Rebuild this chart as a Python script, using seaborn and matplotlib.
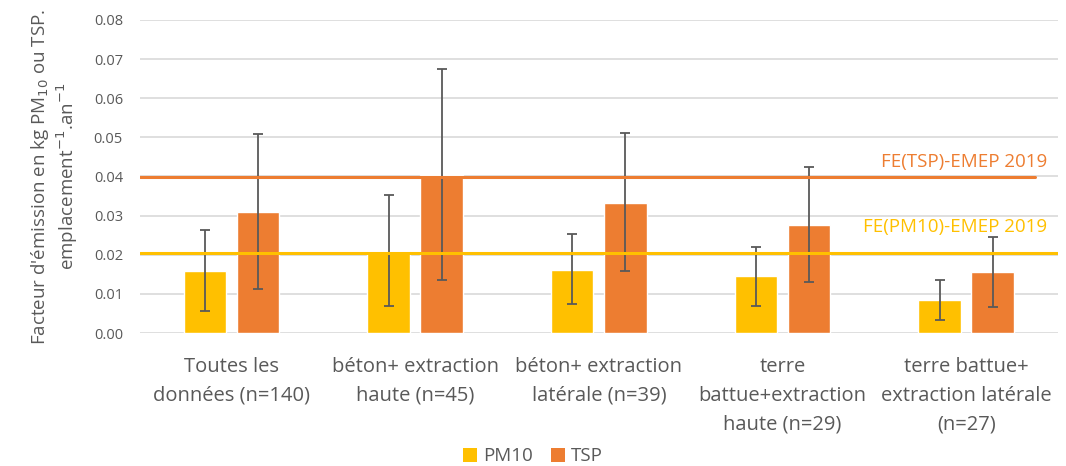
import matplotlib
matplotlib.use("Agg")
import matplotlib.pyplot as plt
import seaborn as sns
import pandas as pd
import numpy as np
from matplotlib.patches import Patch

categories = [
    "Toutes les\ndonnées (n=140)",
    "béton+ extraction\nhaute (n=45)",
    "béton+ extraction\nlatérale (n=39)",
    "terre\nbattue+extraction\nhaute (n=29)",
    "terre battue+\nextraction latérale\n(n=27)",
]
series = ["PM10", "TSP"]
pm10 = [0.0159, 0.0210, 0.0162, 0.0146, 0.0084]
tsp = [0.0310, 0.0404, 0.0333, 0.0277, 0.0156]
pm10_err_low = [0.0056, 0.0069, 0.0074, 0.0070, 0.0033]
pm10_err_high = [0.0263, 0.0353, 0.0253, 0.0221, 0.0136]
tsp_err_low = [0.0112, 0.0135, 0.0158, 0.0131, 0.0067]
tsp_err_high = [0.0509, 0.0675, 0.0510, 0.0425, 0.0245]
ref_pm10 = 0.0204
ref_tsp = 0.0399
ref_labels = ["FE(PM10)-EMEP 2019", "FE(TSP)-EMEP 2019"]
yticks = [0.00, 0.01, 0.02, 0.03, 0.04, 0.05, 0.06, 0.07, 0.08]

colors = {"PM10": "#FFC000", "TSP": "#ED7D31"}
grey = "#595959"
font = "Open Sans"

sns.set_theme(style="white")
plt.rcParams["font.family"] = [font, "DejaVu Sans"]

df = pd.DataFrame({
    "cat": categories * 2,
    "serie": ["PM10"] * 5 + ["TSP"] * 5,
    "val": pm10 + tsp,
})

fig = plt.figure(figsize=(10.66, 4.66), dpi=100)
ax = fig.add_axes([0.131, 0.2854, 0.8615, 0.6717])

sns.barplot(data=df, x="cat", y="val", hue="serie", order=categories,
            hue_order=series, palette=colors, width=0.58, gap=0.2,
            errorbar=None, ax=ax, legend=False, zorder=2, saturation=1)

containers = ax.containers
for cont, vals, lo, hi in [(containers[0], pm10, pm10_err_low, pm10_err_high),
                           (containers[1], tsp, tsp_err_low, tsp_err_high)]:
    xs = [p.get_x() + p.get_width() / 2 for p in cont.patches]
    v = np.array(vals)
    yerr = [v - np.array(lo), np.array(hi) - v]
    ax.errorbar(xs, v, yerr=yerr, fmt="none", ecolor=grey, elinewidth=1.3,
                capsize=3.5, capthick=1.3, zorder=3)

ax.axhline(ref_tsp, xmin=0, xmax=0.975, color=colors["TSP"], lw=2.2, zorder=4)
ax.axhline(ref_pm10, xmin=0, xmax=1.0, color=colors["PM10"], lw=2.2, zorder=4)
ax.text(0.988, 0.0437, ref_labels[1], transform=ax.get_yaxis_transform(),
        ha="right", va="center", color=colors["TSP"], fontsize=13.5)
ax.text(0.988, 0.0270, ref_labels[0], transform=ax.get_yaxis_transform(),
        ha="right", va="center", color=colors["PM10"], fontsize=13.5)

ax.set_ylim(0, 0.08)
ax.set_xlim(-0.5, 4.5)
ax.set_yticks(yticks)
ax.set_yticklabels([f"{t:.2f}" for t in yticks], color=grey, fontsize=10.5)
ax.yaxis.grid(True, color="#D9D9D9", lw=1.2, zorder=0)
ax.set_axisbelow(True)
for s in ax.spines.values():
    s.set_visible(False)
ax.tick_params(axis="y", length=0, pad=12)
ax.tick_params(axis="x", length=0, pad=17)
ax.set_xticks(range(len(categories)))
ax.set_xticklabels(categories, color=grey, fontsize=14.5, linespacing=1.6)
ax.set_xlabel("")
ax.set_ylabel("Facteur d'émission en kg PM$_{10}$ ou TSP.\nemplacement$^{-1}$.an$^{-1}$",
              color=grey, fontsize=13.5, labelpad=10, linespacing=1.15)

handles = [Patch(facecolor=colors[s], edgecolor="none", label=s) for s in series]
fig.legend(handles=handles, loc="lower center", bbox_to_anchor=(0.5, -0.035),
           ncol=2, frameon=False, handlelength=0.75, handleheight=0.75,
           handletextpad=0.3, columnspacing=1.0, labelcolor=grey, fontsize=13.5)

fig.savefig("out.png", dpi=100)
